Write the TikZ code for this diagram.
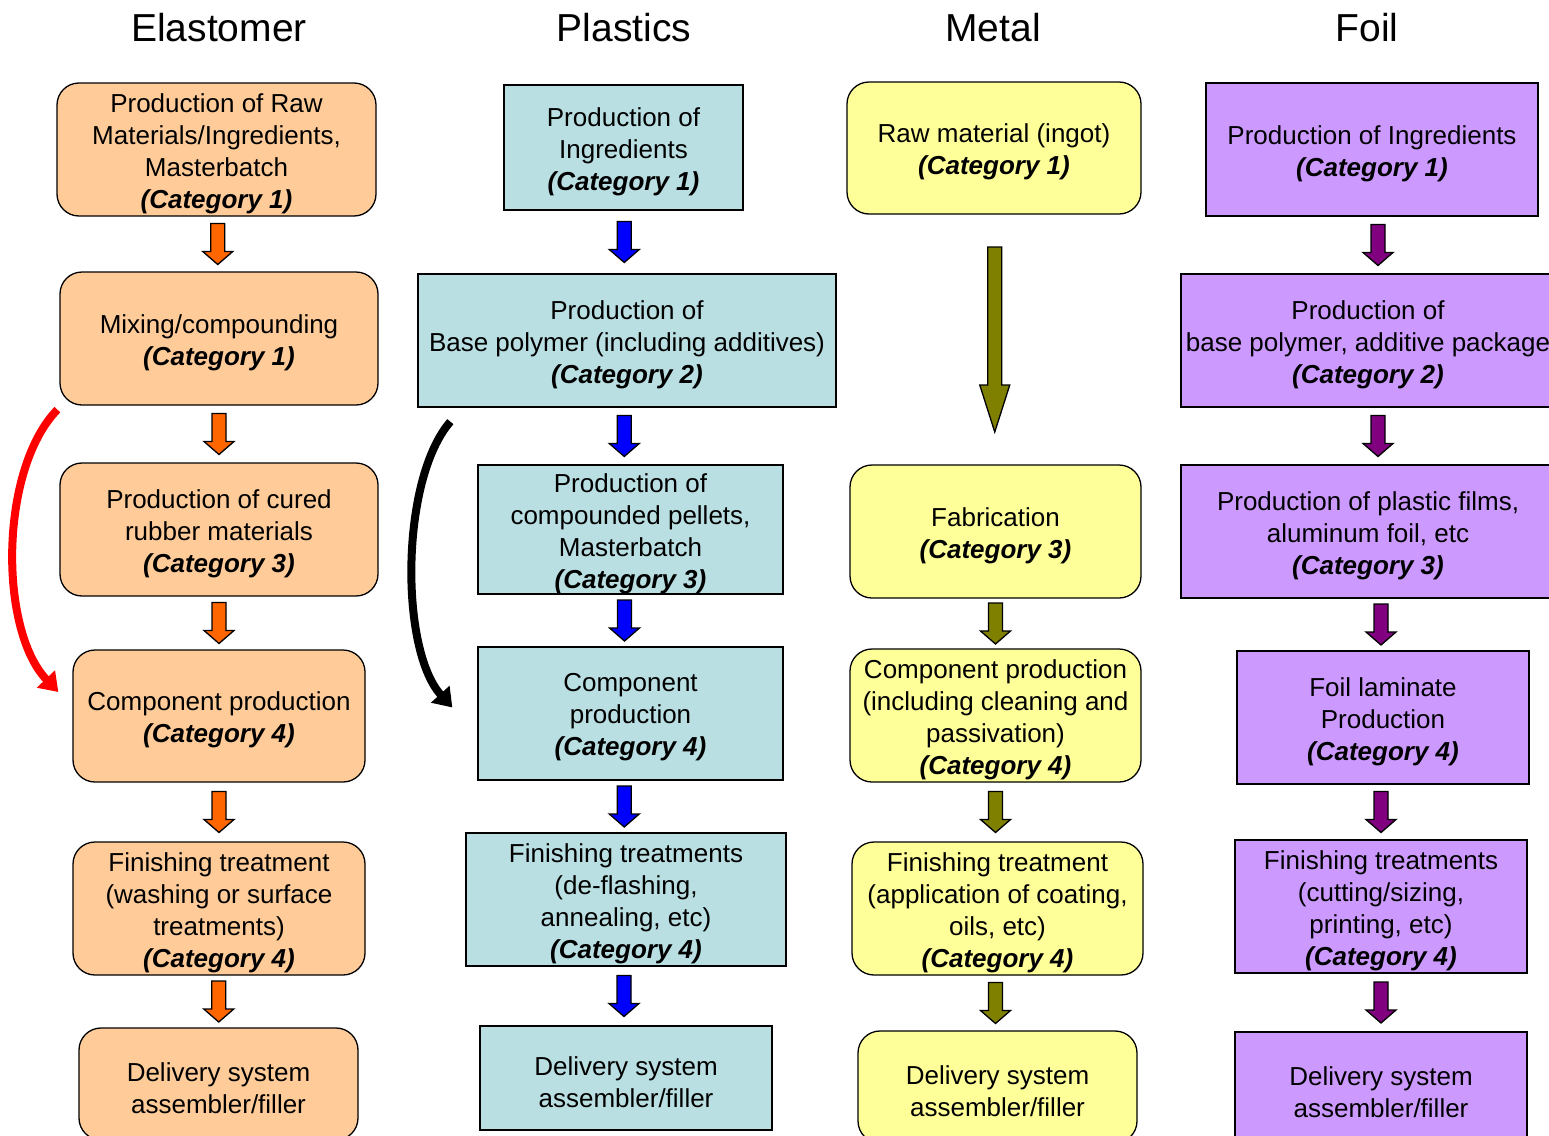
\documentclass[tikz,border=0pt]{standalone}
\usepackage{fontspec}
\setmainfont{Liberation Sans}
\usetikzlibrary{calc,arrows.meta}
\definecolor{elasfill}{HTML}{FFCC99}
\definecolor{plasfill}{HTML}{B9DFE2}
\definecolor{metfill}{HTML}{FFFF99}
\definecolor{foilfill}{HTML}{CC99FF}
\definecolor{arrOr}{HTML}{FF6600}
\definecolor{arrBl}{HTML}{0000FF}
\definecolor{arrOl}{HTML}{808000}
\definecolor{arrPu}{HTML}{800080}
\tikzset{
  boxbase/.style={draw=black, line width=1.3pt, inner sep=0pt},
  boxtext/.style={align=center, inner sep=0pt, font=\fontsize{26}{32}\selectfont,
    text=black, yshift=-4pt},
  elas/.style={boxbase, fill=elasfill, rounded corners=22pt},
  plas/.style={boxbase, fill=plasfill},
  metal/.style={boxbase, fill=metfill, rounded corners=22pt},
  foil/.style={boxbase, fill=foilfill},
  coltitle/.style={font=\fontsize{39}{44}\selectfont, text=black, inner sep=0pt},
  curvarrow/.style={line width=8pt, -{Triangle[length=18pt,width=24pt]}},
}
% box: #1 style, #2 name, #3 x, #4 y, #5 width, #6 height, #7 text
\newcommand\bx[7]{\node[#1, minimum width=#5pt, minimum height=#6pt,
  label={[boxtext]center:{#7}}] (#2) at (#3,#4) {};}
% block arrow: #1 from node, #2 to node, #3 colour, #4 length, #5 head length, #6 x shift
\newcommand\barrow[6]{%
  \draw[fill=#3, draw=black, line width=1.3pt, line join=miter]
    let \p1=($(#1.south)!0.5!(#2.north)$) in
    ({\x1+(#6)*1pt-7pt},{\y1+(#4)*0.5pt}) -- ({\x1+(#6)*1pt+7pt},{\y1+(#4)*0.5pt})
    -- ({\x1+(#6)*1pt+7pt},{\y1-(#4)*0.5pt+(#5)*1pt}) -- ({\x1+(#6)*1pt+15pt},{\y1-(#4)*0.5pt+(#5)*1pt})
    -- ({\x1+(#6)*1pt},{\y1-(#4)*0.5pt})
    -- ({\x1+(#6)*1pt-15pt},{\y1-(#4)*0.5pt+(#5)*1pt}) -- ({\x1+(#6)*1pt-7pt},{\y1-(#4)*0.5pt+(#5)*1pt})
    -- cycle;}
\newcommand\cat[1]{\textbf{\textit{(Category #1)}}}
\begin{document}
\begin{tikzpicture}[x=1pt,y=-1pt]
\clip (0,0) rectangle (1549,1135);
\fill[white] (0,0) rectangle (1549,1135);

% titles
\node[coltitle] (tE) at (219,28) {Elastomer};
\node[coltitle] (tP) at (624,28) {Plastics};
\node[coltitle] (tM) at (993,28) {Metal};
\node[coltitle] (tF) at (1367,28) {Foil};

% Elastomer
\bx{elas}{e1}{216.5}{149.5}{319}{133}{Production of Raw\\Materials/Ingredients,\\Masterbatch\\\cat{1}}
\bx{elas}{e2}{219}{338.5}{318}{133}{Mixing/compounding\\\cat{1}}
\bx{elas}{e3}{219}{529.5}{318}{133}{Production of cured\\rubber materials\\\cat{3}}
\bx{elas}{e4}{219}{716}{292}{132}{Component production\\\cat{4}}
\bx{elas}{e5}{219}{908.5}{292}{133}{Finishing treatment\\(washing or surface\\treatments)\\\cat{4}}
\bx{elas}{e6}{218.5}{1084}{279}{112}{Delivery system\\assembler/filler}

% Plastics
\bx{plas}{p1}{623.5}{147.5}{239}{125}{Production of\\Ingredients\\\cat{1}}
\bx{plas}{p2}{627}{340.5}{418}{133}{Production of\\Base polymer (including additives)\\\cat{2}}
\bx{plas}{p3}{630.5}{529.5}{305}{129}{Production of\\compounded pellets,\\Masterbatch\\\cat{3}}
\bx{plas}{p4}{630.5}{713.5}{305}{133}{Component\\production\\\cat{4}}
\bx{plas}{p5}{626}{899.5}{320}{133}{Finishing treatments\\(de-flashing,\\annealing, etc)\\\cat{4}}
\bx{plas}{p6}{626}{1078}{292}{104}{Delivery system\\assembler/filler}

% Metal
\bx{metal}{m1}{994}{148}{294}{132}{Raw material (ingot)\\\cat{1}}
\bx{metal}{m2}{995.5}{531.5}{291}{133}{Fabrication\\\cat{3}}
\bx{metal}{m3}{995.5}{715.5}{291}{133}{Component production\\(including cleaning and\\passivation)\\\cat{4}}
\bx{metal}{m4}{997.5}{908.5}{291}{133}{Finishing treatment\\(application of coating,\\oils, etc)\\\cat{4}}
\bx{metal}{m5}{997.5}{1087}{279}{112}{Delivery system\\assembler/filler}

% Foil
\bx{foil}{f1}{1372}{149.5}{332}{133}{Production of Ingredients\\\cat{1}}
\bx{foil}{f2}{1368}{340.5}{374}{133}{Production of\\base polymer, additive package\\\cat{2}}
\bx{foil}{f3}{1368}{531.5}{374}{133}{Production of plastic films,\\aluminum foil, etc\\\cat{3}}
\bx{foil}{f4}{1383}{717.5}{292}{133}{Foil laminate\\Production\\\cat{4}}
\bx{foil}{f5}{1381}{906.5}{292}{133}{Finishing treatments\\(cutting/sizing,\\printing, etc)\\\cat{4}}
\bx{foil}{f6}{1381}{1088}{292}{112}{Delivery system\\assembler/filler}

% block arrows
\barrow{e1}{e2}{arrOr}{41}{13}{0}
\barrow{e2}{e3}{arrOr}{41}{13}{0}
\barrow{e3}{e4}{arrOr}{41}{13}{0}
\barrow{e4}{e5}{arrOr}{41}{13}{0}
\barrow{e5}{e6}{arrOr}{41}{13}{0}

\barrow{p1}{p2}{arrBl}{41}{13}{-1}
\barrow{p2}{p3}{arrBl}{41}{13}{-4.5}
\barrow{p3}{p4}{arrBl}{41}{13}{-6}
\barrow{p4}{p5}{arrBl}{41}{13}{-4}
\barrow{p5}{p6}{arrBl}{41}{13}{-2}

\barrow{m1}{m2}{arrOl}{185}{47}{0}
\barrow{m2}{m3}{arrOl}{41}{13}{0}
\barrow{m3}{m4}{arrOl}{41}{13}{-1}
\barrow{m4}{m5}{arrOl}{41}{13}{-2}

\barrow{f1}{f2}{arrPu}{41}{13}{8}
\barrow{f2}{f3}{arrPu}{41}{13}{10}
\barrow{f3}{f4}{arrPu}{41}{13}{5.5}
\barrow{f4}{f5}{arrPu}{41}{13}{-1}
\barrow{f5}{f6}{arrPu}{41}{13}{0}

% curved arrows
\draw[curvarrow, red] ($(e2.south west)+(-2,4)$) .. controls (-1,470) and (-1,630) .. ($(e4.west)+(-14,-24)$);
\draw[curvarrow, black] ($(p2.south west)+(33,14)$) .. controls (400,480) and (400,650) .. ($(p4.west)+(-25,-6)$);
\end{tikzpicture}
\end{document}
